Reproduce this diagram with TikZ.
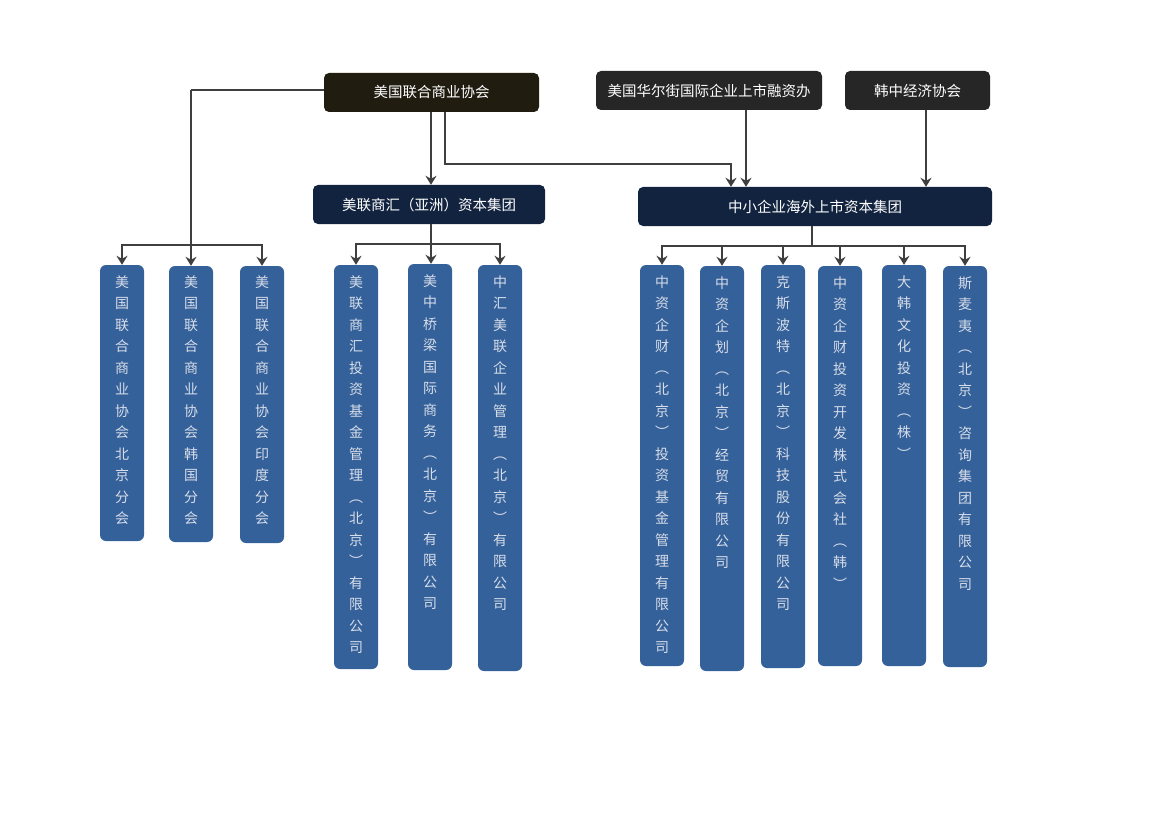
\documentclass[tikz,border=0pt]{standalone}
\usepackage{fontspec}
\newfontfamily\cjk{Noto Sans CJK SC}
\usetikzlibrary{arrows.meta}
\definecolor{hdrA}{HTML}{201C10}
\definecolor{hdrB}{HTML}{262626}
\definecolor{grp}{HTML}{12233F}
\definecolor{colfill}{HTML}{35619A}
\definecolor{coltext}{HTML}{D6DDE9}
\definecolor{lin}{HTML}{3F3F3F}
\tikzset{
  hdr/.style={draw=none, fill=hdrB, rounded corners=5pt, minimum height=39pt, text=white, font=\cjk\fontsize{14.5}{16}\selectfont, inner sep=0pt},
  grpbox/.style={draw=none, fill=grp, rounded corners=5pt, minimum height=39pt, text=white, font=\cjk\fontsize{14.5}{16}\selectfont, inner sep=0pt},
  colbox/.style={draw=none, fill=colfill, rounded corners=6pt, minimum width=44pt, inner sep=0pt},
  vt/.style={anchor=north, align=center, inner sep=0pt, text=coltext, font=\cjk\fontsize{14}{21.5}\selectfont},
  arr/.style={draw=lin, line width=2.3pt, -{Stealth[length=9pt,width=11pt,inset=3pt]}},
  ln/.style={draw=lin, line width=2.3pt}
}
\begin{document}
\begin{tikzpicture}[x=1pt,y=-1pt]
\useasboundingbox[fill=white] (0,0) rectangle (1161,821);

% top headers
\node[hdr, fill=hdrA, minimum width=215pt] (a) at (431.5,92.5) {美国联合商业协会};
\node[hdr, minimum width=226pt] (b) at (709,90.5) {美国华尔街国际企业上市融资办};
\node[hdr, minimum width=145pt] (c) at (917.5,90.5) {韩中经济协会};

% groups
\node[grpbox, minimum width=232pt] (g1) at (429,204.5) {美联商汇（亚洲）资本集团};
\node[grpbox, minimum width=354pt] (g2) at (815,206.5) {中小企业海外上市资本集团};

% columns
\node[colbox, minimum height=276pt] (c1) at (122,403) {};
\node[colbox, minimum height=276pt] (c2) at (191,404) {};
\node[colbox, minimum height=277pt] (c3) at (262,404.5) {};
\node[colbox, minimum height=404pt] (c4) at (356,467) {};
\node[colbox, minimum height=406pt] (c5) at (430,467) {};
\node[colbox, minimum height=406pt] (c6) at (500,468) {};
\node[colbox, minimum height=401pt] (c7) at (662,465.5) {};
\node[colbox, minimum height=405pt] (c8) at (722,468.5) {};
\node[colbox, minimum height=403pt] (c9) at (783,466.5) {};
\node[colbox, minimum height=400pt] (c10) at (840,466) {};
\node[colbox, minimum height=401pt] (c11) at (904,465.5) {};
\node[colbox, minimum height=401pt] (c12) at (965,466.5) {};

% column texts
\node[vt] (t1) at ([yshift=-10.5pt]c1.north) {美\\国\\联\\合\\商\\业\\协\\会\\北\\京\\分\\会};
\node[vt] (t2) at ([yshift=-9.5pt]c2.north) {美\\国\\联\\合\\商\\业\\协\\会\\韩\\国\\分\\会};
\node[vt] (t3) at ([yshift=-9.5pt]c3.north) {美\\国\\联\\合\\商\\业\\协\\会\\印\\度\\分\\会};
\node[vt] (t4) at ([yshift=-10.5pt]c4.north) {美\\联\\商\\汇\\投\\资\\基\\金\\管\\理\\︵\\北\\京\\︶\\有\\限\\公\\司};
\node[vt] (t5) at ([yshift=-10.5pt]c5.north) {美\\中\\桥\\梁\\国\\际\\商\\务\\︵\\北\\京\\︶\\有\\限\\公\\司};
\node[vt] (t6) at ([yshift=-10.5pt]c6.north) {中\\汇\\美\\联\\企\\业\\管\\理\\︵\\北\\京\\︶\\有\\限\\公\\司};
\node[vt] (t7) at ([yshift=-10.5pt]c7.north) {中\\资\\企\\财\\︵\\北\\京\\︶\\投\\资\\基\\金\\管\\理\\有\\限\\公\\司};
\node[vt] (t8) at ([yshift=-10.5pt]c8.north) {中\\资\\企\\划\\︵\\北\\京\\︶\\经\\贸\\有\\限\\公\\司};
\node[vt] (t9) at ([yshift=-10.5pt]c9.north) {克\\斯\\波\\特\\︵\\北\\京\\︶\\科\\技\\股\\份\\有\\限\\公\\司};
\node[vt] (t10) at ([yshift=-10.5pt]c10.north) {中\\资\\企\\财\\投\\资\\开\\发\\株\\式\\会\\社\\︵\\韩\\︶};
\node[vt] (t11) at ([yshift=-10.5pt]c11.north) {大\\韩\\文\\化\\投\\资\\︵\\株\\︶};
\node[vt] (t12) at ([yshift=-10.5pt]c12.north) {斯\\麦\\夷\\︵\\北\\京\\︶\\咨\\询\\集\\团\\有\\限\\公\\司};

% connectors
\coordinate (lb) at (191,245);
\coordinate (la) at (191,90);
\draw[ln] (a.west |- la) -- (la);
\draw[arr] (la) -- (c2.north);
\draw[arr] (lb) -| (c1.north);
\draw[arr] (lb) -| (c3.north);

\coordinate (ax1) at (431,0);
\draw[arr] (ax1 |- a.south) -- (ax1 |- g1.north);

\coordinate (ax2) at (445,0);
\coordinate (k1) at (731,164);
\draw[arr] (ax2 |- a.south) |- (k1) -- (k1 |- g2.north);

\coordinate (bx) at (746,0);
\draw[arr] (bx |- b.south) -- (bx |- g2.north);
\coordinate (cx) at (926,0);
\draw[arr] (cx |- c.south) -- (cx |- g2.north);

\coordinate (g1b) at (431,244);
\draw[ln] (g1b |- g1.south) -- (g1b);
\draw[arr] (g1b) -| (c4.north);
\draw[arr] (g1b) -- (g1b |- c5.north);
\draw[arr] (g1b) -| (c6.north);

\coordinate (g2b) at (812,246);
\draw[ln] (g2b |- g2.south) -- (g2b);
\draw[arr] (g2b) -| (c7.north);
\draw[arr] (g2b) -| (c8.north);
\draw[arr] (g2b) -| (c9.north);
\draw[arr] (g2b) -| (c10.north);
\draw[arr] (g2b) -| (c11.north);
\draw[arr] (g2b) -| (c12.north);
\end{tikzpicture}
\end{document}
